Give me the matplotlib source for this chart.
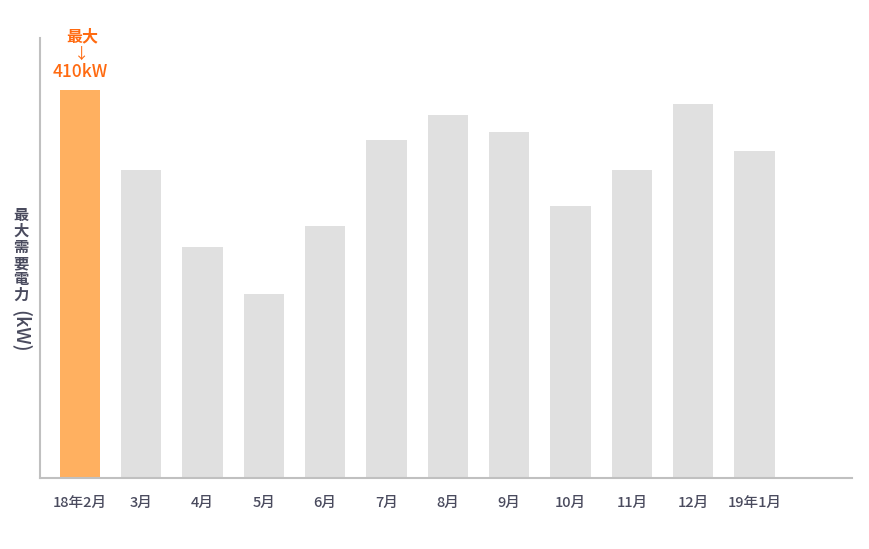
import matplotlib
matplotlib.use('Agg')
import matplotlib.pyplot as plt
import numpy as np

plt.rcParams['font.family'] = ['Noto Sans CJK JP', 'DejaVu Sans']

# monthly peak demand (kW)
months = ['18年2月', '3月', '4月', '5月', '6月', '7月', '8月', '9月',
          '10月', '11月', '12月', '19年1月']
peak_kw = [410, 325, 244, 194, 266, 357, 384, 366, 287, 325, 395, 346]
max_label = '410kW'
ylabel_kanji = '最大需要電力'
ylabel_unit = '(kW)'

text_color = '#4a4b5e'
orange = '#ffb060'
accent = '#ff6a10'
gray = '#e0e0e0'

W, H = 870, 549
fig = plt.figure(figsize=(W / 100, H / 100), dpi=100)
ax = fig.add_axes([40 / W, 71 / H, 812 / W, 440 / H])

x = np.arange(len(months))
colors = [orange] + [gray] * (len(months) - 1)
ax.bar(x, peak_kw, width=0.66, color=colors)

ax.set_xlim(-0.65, 12.59)
ax.set_ylim(0, 465)
ax.set_xticks(x)
ax.set_xticklabels(months, fontsize=10.5, color=text_color, fontweight='medium')
ax.tick_params(axis='x', length=0, pad=13)
ax.set_yticks([])
for side in ['top', 'right']:
    ax.spines[side].set_visible(False)
for side in ['left', 'bottom']:
    ax.spines[side].set_color('#c0c0c0')
    ax.spines[side].set_linewidth(1.5)

# annotation above the max bar
top = (0, peak_kw[0])
ax.annotate(max_label, xy=top, xytext=(0, 13), textcoords='offset points',
            ha='center', va='center', fontsize=12.5, color=accent, fontweight='medium')
ax.annotate('↓', xy=top, xytext=(1, 26), textcoords='offset points',
            ha='center', va='center', fontsize=11, color=accent)
ax.annotate('最大', xy=top, xytext=(2, 38.5), textcoords='offset points',
            ha='center', va='center', fontsize=11.5, color=accent, fontweight='bold')

# vertical y label: upright kanji stacked, then rotated unit
fig.text(21 / W, 1 - 255 / H, '\n'.join(ylabel_kanji), ha='center', va='center',
         fontsize=11, color=text_color, fontweight='bold', linespacing=1.0)
fig.text(21 / W, 1 - 331 / H, ylabel_unit, ha='center', va='center', rotation=-90,
         fontsize=14, color=text_color, fontweight='medium')

fig.savefig('out.png', dpi=100)
